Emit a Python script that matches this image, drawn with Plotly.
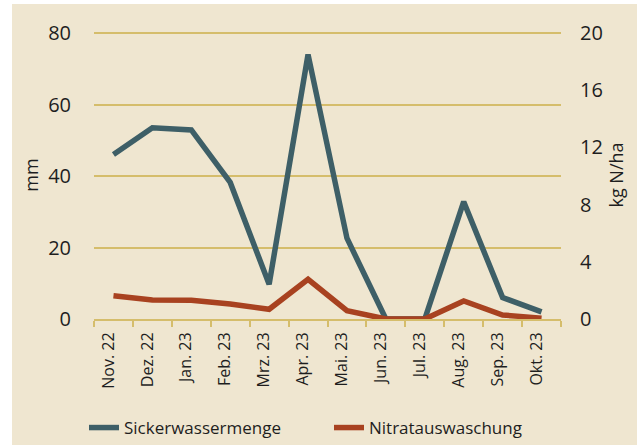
import plotly.graph_objects as go

months = ["Nov. 22", "Dez. 22", "Jan. 23", "Feb. 23", "Mrz. 23", "Apr. 23",
          "Mai. 23", "Jun. 23", "Jul. 23", "Aug. 23", "Sep. 23", "Okt. 23"]
sickerwasser = [46.0, 53.5, 52.9, 38.2, 9.7, 74.0, 22.6, 0.0, 0.0, 32.8, 6.0, 2.0]
nitrat = [1.63, 1.33, 1.31, 1.05, 0.68, 2.78, 0.58, 0.0, 0.0, 1.26, 0.28, 0.06]
left_ticks = [0, 20, 40, 60, 80]
right_ticks = [0, 4, 8, 12, 16, 20]

BG = "#efe6d0"
GOLD = "#d5bd6b"
TEAL = "#3e5f67"
RED = "#a84220"
TXT = "#1e1e1e"
FONT = "Open Sans"

fig = go.Figure()
fig.add_trace(go.Scatter(x=months, y=sickerwasser, name="Sickerwassermenge",
                         mode="lines", line=dict(color=TEAL, width=5.5),
                         cliponaxis=False, yaxis="y"))
fig.add_trace(go.Scatter(x=months, y=nitrat, name="Nitratauswaschung",
                         mode="lines", line=dict(color=RED, width=5.5),
                         cliponaxis=False, yaxis="y2"))

# plot area: top edge 2px above the 80-gridline so that gridline is drawn
L, R, T, B = 94, 79, 31, 126
W, H = 640 - L - R, 445 - T - B
PXU = 286 / 80.0
top_left = 80 + 2 / PXU
top_right = top_left / 4

fig.add_shape(type="rect", xref="paper", yref="paper", layer="below",
              x0=(12 - L) / W, x1=(637 - L) / W,
              y0=(319 - 445) / H, y1=(319 - 4) / H,
              fillcolor=BG, line=dict(width=0))

fig.update_layout(
    width=640, height=445,
    margin=dict(l=L, r=R, t=T, b=B, autoexpand=False),
    paper_bgcolor="white", plot_bgcolor=BG,
    font=dict(family=FONT, size=17, color=TXT),
    showlegend=True,
    legend=dict(orientation="h", x=(84 - L) / W, xanchor="left",
                y=(319 - 428) / H, yanchor="middle",
                entrywidth=200, entrywidthmode="pixels",
                font=dict(size=17, color=TXT), bgcolor="rgba(0,0,0,0)",
                tracegroupgap=0),
    xaxis=dict(type="category", range=[-0.5, 11.5], tickson="boundaries",
               ticks="outside", ticklen=6, tickwidth=2, tickcolor=GOLD,
               showline=True, linecolor=GOLD, linewidth=2, showgrid=False,
               tickangle=-90, tickfont=dict(size=16, color=TXT), automargin=False,
               ticklabelstandoff=5, ticklabelshift=-5),
    yaxis=dict(range=[0, top_left], tickvals=left_ticks, showgrid=True,
               gridcolor=GOLD, gridwidth=2, zeroline=False, showline=False,
               ticks="outside", ticklen=18, tickcolor="rgba(0,0,0,0)",
               automargin=False,
               title=dict(text="mm", font=dict(size=18, color=TXT), standoff=4),
               tickfont=dict(size=20, color=TXT)),
    yaxis2=dict(range=[0, top_right], tickvals=right_ticks, overlaying="y", side="right",
                showgrid=False, zeroline=False, showline=False, ticks="",
                ticklabelstandoff=18, automargin=False,
                title=dict(text="kg N/ha", font=dict(size=18, color=TXT), standoff=8),
                tickfont=dict(size=20, color=TXT)),
)

fig.write_html("out.html", config={"displayModeBar": False},
               post_script="document.body.style.margin='0';")
